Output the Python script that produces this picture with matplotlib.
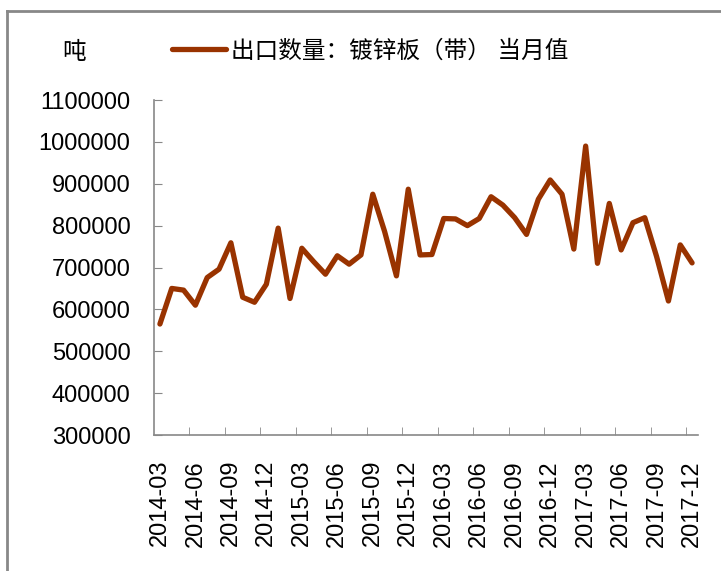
import matplotlib.pyplot as plt
from matplotlib.lines import Line2D

plt.rcParams['font.family'] = ['Liberation Sans', 'Noto Sans CJK SC', 'DejaVu Sans']

# monthly export volume, 2014-03 .. 2017-12 (tons)
months = []
for y in range(2014, 2018):
    for m in range(1, 13):
        if y == 2014 and m < 3:
            continue
        months.append('%d-%02d' % (y, m))

values = [565000, 650000, 646000, 610000, 676000, 696000, 759000, 629000,
          617000, 660000, 794000, 626000, 746000, 714000, 684000, 728000,
          708000, 730000, 875000, 786000, 680000, 887000, 730000, 731000,
          817000, 816000, 800000, 817000, 869000, 849000, 819000, 779000,
          863000, 909000, 875000, 744000, 990000, 710000, 853000, 742000,
          807000, 819000, 726000, 620000, 754000, 711000]

series_name = '出口数量：镀锌板（带） 当月值'
unit = '吨'

fig = plt.figure(figsize=(7.21, 5.71), dpi=100)
ax = fig.add_axes([154/721, 1-435/571, (698-154)/721, (435-100)/571])

x = list(range(len(values)))
ax.plot(x, values, color='#993300', lw=3.8, solid_joinstyle='round',
        solid_capstyle='round', label=series_name)

ax.set_xlim(-0.5, len(values) - 0.5)
ax.set_ylim(300000, 1100000)
ax.set_yticks(range(300000, 1100001, 100000))
ax.set_yticklabels([str(v) for v in range(300000, 1100001, 100000)])

ax.set_xticks(x[::3])
ax.set_xticklabels(months[::3], rotation=90)
ax.set_xticks([i - 0.5 for i in range(3, len(values), 3)], minor=True)
ax.tick_params(axis='x', which='major', length=0, pad=18, labelsize=17)
ax.tick_params(axis='x', which='minor', direction='in', length=6, color='#888888')
ax.tick_params(axis='y', direction='in', length=6, color='#888888', pad=17, labelsize=17)

for s in ['top', 'right']:
    ax.spines[s].set_visible(False)
for s in ['left', 'bottom']:
    ax.spines[s].set_color('#888888')
    ax.spines[s].set_linewidth(1.2)

fig.legend(loc='center left', bbox_to_anchor=(172/721, 1-51/571), frameon=False,
           fontsize=17, handlelength=2.29, handletextpad=0.2, borderpad=0,
           borderaxespad=0)
fig.text(74/721, 1-53/571, unit, fontsize=17, ha='center', va='center')

# outer frame (left and top edges)
fig.add_artist(Line2D([7/721, 7/721], [0, 1-11/571], color='#888888', lw=2))
fig.add_artist(Line2D([7/721, 1], [1-11/571, 1-11/571], color='#888888', lw=2))

fig.savefig('out.png', dpi=100)
